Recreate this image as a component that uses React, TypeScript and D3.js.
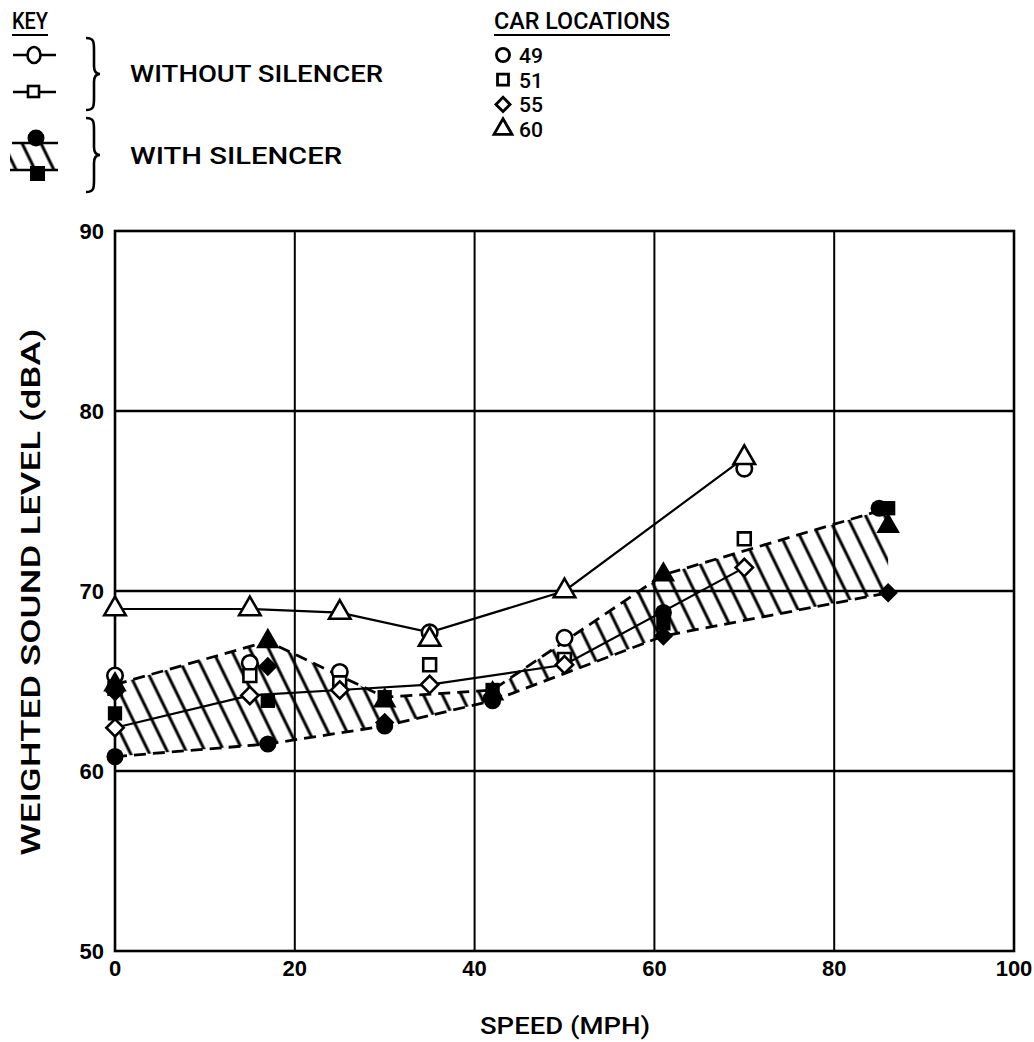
import React, { useEffect, useRef } from 'react';
import * as d3 from 'd3';

// speeds (mph) and A-weighted levels (dBA)
const speedsWithout = [0, 15, 25, 35, 50, 70];
const without49 = [65.3, 66.0, 65.5, 67.7, 67.4, 76.8];
const without51 = [64.6, 65.3, 64.9, 65.9, 66.2, 72.9];
const without55 = [62.4, 64.2, 64.5, 64.8, 65.9, 71.3];
const without60 = [69.0, 69.0, 68.8, 67.3, 70.0, 77.4];

const speedsWith = [0, 17, 30, 42, 61, 86];
const speedsWith49 = [0, 17, 30, 42, 61, 85];
const with49 = [60.8, 61.5, 62.5, 63.9, 68.8, 74.6];
const with51 = [63.2, 63.9, 64.1, 64.5, 68.2, 74.6];
const with55 = [64.4, 65.8, 62.7, 64.2, 67.5, 69.9];
const with60 = [64.8, 67.2, 63.9, 64.3, 70.9, 73.6];

const xTicks = [0, 20, 40, 60, 80, 100];
const yTicks = [50, 60, 70, 80, 90];
const carLocations = ['49', '51', '55', '60'];

const FONT = "Roboto, 'DejaVu Sans Condensed', sans-serif";
const NUM_FONT = "'Liberation Sans', Arial, sans-serif";

export default function App() {
  const svgRef = useRef<SVGSVGElement>(null);

  useEffect(() => {
    if (!svgRef.current) return;
    const width = 1034;
    const height = 1042;
    const svg = d3.select(svgRef.current);
    svg.selectAll('*').remove();
    svg.attr('width', width).attr('height', height).attr('viewBox', `0 0 ${width} ${height}`);

    const x = d3.scaleLinear().domain([0, 100]).range([115, 1014]);
    const y = d3.scaleLinear().domain([50, 90]).range([951, 231]);

    // circle, square, diamond (rotated square), triangle
    const shapes = [d3.symbolCircle, d3.symbolSquare, d3.symbolSquare, d3.symbolTriangle];
    const sizes = [190, 165, 150, 200];
    const rot = [0, 0, 45, 0];
    const sym = (i: number, s?: number) => d3.symbol().type(shapes[i]).size(s ?? sizes[i])()!;

    const defs = svg.append('defs');
    const pat = defs.append('pattern')
      .attr('id', 'hatch')
      .attr('patternUnits', 'userSpaceOnUse')
      .attr('width', 17).attr('height', 17)
      .attr('patternTransform', 'rotate(-26)');
    pat.append('line').attr('x1', 8).attr('y1', -2).attr('x2', 8).attr('y2', 19)
      .attr('stroke', '#000').attr('stroke-width', 3);

    // grid
    const grid = svg.append('g');
    grid.selectAll('line.v').data(xTicks.slice(1, -1)).join('line')
      .attr('x1', d => x(d)).attr('x2', d => x(d))
      .attr('y1', y(90)).attr('y2', y(50))
      .attr('stroke', '#000').attr('stroke-width', 2);
    grid.selectAll('line.h').data(yTicks.slice(1, -1)).join('line')
      .attr('x1', x(0)).attr('x2', x(100))
      .attr('y1', d => y(d)).attr('y2', d => y(d))
      .attr('stroke', '#000').attr('stroke-width', 2.4);
    grid.append('rect')
      .attr('x', x(0)).attr('y', y(90))
      .attr('width', x(100) - x(0)).attr('height', y(50) - y(90))
      .attr('fill', 'none').attr('stroke', '#000').attr('stroke-width', 2.6);

    // tick labels
    svg.append('g').selectAll('text').data(xTicks).join('text')
      .attr('x', d => x(d)).attr('y', y(50) + 25)
      .attr('text-anchor', 'middle')
      .style('font-family', NUM_FONT).style('font-size', '22px').style('font-weight', 'bold')
      .text(d => d);
    svg.append('g').selectAll('text').data(yTicks).join('text')
      .attr('x', x(0) - 11).attr('y', d => y(d) + 8)
      .attr('text-anchor', 'end')
      .style('font-family', NUM_FONT).style('font-size', '22px').style('font-weight', 'bold')
      .text(d => d);

    // axis titles
    svg.append('text')
      .attr('transform', 'translate(40,592) rotate(-90)')
      .attr('text-anchor', 'middle')
      .attr('textLength', 527).attr('lengthAdjust', 'spacingAndGlyphs')
      .style('font-family', FONT).style('font-size', '25px').style('font-weight', 500)
      .text('WEIGHTED SOUND LEVEL (dBA)');
    svg.append('text')
      .attr('x', 565).attr('y', 1034)
      .attr('text-anchor', 'middle')
      .attr('textLength', 170).attr('lengthAdjust', 'spacingAndGlyphs')
      .style('font-family', FONT).style('font-size', '24px').style('font-weight', 500)
      .text('SPEED (MPH)');

    // with silencer band (envelope of filled points)
    const withSeries = [with49, with51, with55, with60];
    const bandUpper = speedsWith.map((s, i) => [s, d3.max(withSeries, v => v[i])!] as [number, number]);
    const bandLower = speedsWith.map((s, i) => [s, d3.min(withSeries, v => v[i])!] as [number, number]);
    const line = d3.line<[number, number]>().x(d => x(d[0])).y(d => y(d[1]));
    const area = d3.area<number>()
      .x(i => x(speedsWith[i]))
      .y0(i => y(bandLower[i][1]))
      .y1(i => y(bandUpper[i][1]));
    defs.append('clipPath').attr('id', 'bandClip')
      .append('path').attr('d', area(d3.range(speedsWith.length))!);
    svg.append('rect')
      .attr('x', x(0)).attr('y', y(90))
      .attr('width', x(100) - x(0)).attr('height', y(50) - y(90))
      .attr('fill', 'url(#hatch)').attr('clip-path', 'url(#bandClip)');
    [bandUpper, bandLower].forEach(b => {
      svg.append('path').attr('d', line(b)!)
        .attr('fill', 'none').attr('stroke', '#000').attr('stroke-width', 2.8)
        .attr('stroke-dasharray', '12 7');
    });

    // without silencer envelope lines
    const withoutSeries = [without49, without51, without55, without60];
    const upper = speedsWithout.map((s, i) => [s, d3.max(withoutSeries, v => v[i])!] as [number, number]);
    const lower = speedsWithout.map((s, i) => [s, d3.min(withoutSeries, v => v[i])!] as [number, number]);
    [upper, lower].forEach(b => {
      svg.append('path').attr('d', line(b)!)
        .attr('fill', 'none').attr('stroke', '#000').attr('stroke-width', 2.2);
    });

    // open markers
    const openG = svg.append('g');
    withoutSeries.forEach((vals, k) => {
      openG.selectAll(`path.o${k}`).data(vals).join('path')
        .attr('class', `o${k}`)
        .attr('transform', (v, i) => `translate(${x(speedsWithout[i])},${y(v)}) rotate(${rot[k]})`)
        .attr('d', sym(k))
        .attr('fill', '#fff').attr('stroke', '#000').attr('stroke-width', 2.6);
    });

    // filled markers
    const fillG = svg.append('g');
    withSeries.forEach((vals, k) => {
      const sp = k === 0 ? speedsWith49 : speedsWith;
      fillG.selectAll(`path.f${k}`).data(vals).join('path')
        .attr('class', `f${k}`)
        .attr('transform', (v, i) => `translate(${x(sp[i])},${y(v)}) rotate(${rot[k]})`)
        .attr('d', sym(k, sizes[k] + 40))
        .attr('fill', '#000');
    });

    // ---- key ----
    const key = svg.append('g').style('font-family', FONT).style('font-size', '24px').style('font-weight', 500);
    key.append('text').attr('x', 12).attr('y', 29)
      .attr('textLength', 36).attr('lengthAdjust', 'spacingAndGlyphs').text('KEY');
    key.append('line').attr('x1', 12).attr('x2', 48).attr('y1', 35).attr('y2', 35)
      .attr('stroke', '#000').attr('stroke-width', 2.2);

    key.append('line').attr('x1', 13).attr('x2', 56).attr('y1', 55).attr('y2', 55)
      .attr('stroke', '#000').attr('stroke-width', 2.6);
    key.append('ellipse').attr('cx', 34).attr('cy', 55).attr('rx', 6.5).attr('ry', 8)
      .attr('fill', '#fff').attr('stroke', '#000').attr('stroke-width', 2.6);
    key.append('line').attr('x1', 13).attr('x2', 56).attr('y1', 92).attr('y2', 92)
      .attr('stroke', '#000').attr('stroke-width', 2.6);
    key.append('rect').attr('x', 28).attr('y', 86).attr('width', 11).attr('height', 11)
      .attr('fill', '#fff').attr('stroke', '#000').attr('stroke-width', 2.6);

    defs.append('clipPath').attr('id', 'keyClip')
      .append('path').attr('d', 'M10,142 L58,142 L58,171 L10,171 Z');
    key.append('rect').attr('x', 0).attr('y', 130).attr('width', 70).attr('height', 50)
      .attr('fill', 'url(#hatch)').attr('clip-path', 'url(#keyClip)');
    key.append('line').attr('x1', 12).attr('x2', 58).attr('y1', 143).attr('y2', 143)
      .attr('stroke', '#000').attr('stroke-width', 2.4);
    key.append('line').attr('x1', 10).attr('x2', 58).attr('y1', 170).attr('y2', 170)
      .attr('stroke', '#000').attr('stroke-width', 2.4);
    key.append('circle').attr('cx', 36).attr('cy', 138).attr('r', 8.5).attr('fill', '#000');
    key.append('rect').attr('x', 30).attr('y', 166).attr('width', 15).attr('height', 15).attr('fill', '#000');

    const brace = (bx: number, y0: number, y1: number) => {
      const m = (y0 + y1) / 2;
      return `M${bx},${y0} C${bx + 8},${y0} ${bx + 8},${y0 + 4} ${bx + 8},${y0 + 12} L${bx + 8},${m - 8} ` +
        `C${bx + 8},${m - 2} ${bx + 10},${m} ${bx + 14},${m} C${bx + 10},${m} ${bx + 8},${m + 2} ${bx + 8},${m + 8} ` +
        `L${bx + 8},${y1 - 12} C${bx + 8},${y1 - 4} ${bx + 8},${y1} ${bx},${y1}`;
    };
    [[38, 110], [118, 192]].forEach(([a, b]) => {
      key.append('path').attr('d', brace(86, a, b))
        .attr('fill', 'none').attr('stroke', '#000').attr('stroke-width', 2.6);
    });
    key.append('text').attr('x', 130).attr('y', 82)
      .attr('textLength', 253).attr('lengthAdjust', 'spacingAndGlyphs').text('WITHOUT SILENCER');
    key.append('text').attr('x', 130).attr('y', 164)
      .attr('textLength', 212).attr('lengthAdjust', 'spacingAndGlyphs').text('WITH SILENCER');

    key.append('text').attr('x', 494).attr('y', 29)
      .attr('textLength', 176).attr('lengthAdjust', 'spacingAndGlyphs').text('CAR LOCATIONS');
    key.append('line').attr('x1', 494).attr('x2', 670).attr('y1', 35).attr('y2', 35)
      .attr('stroke', '#000').attr('stroke-width', 2.2);
    carLocations.forEach((c, k) => {
      const cy = 55 + k * 24.7;
      key.append('path').attr('transform', `translate(503,${cy}) rotate(${rot[k]})`)
        .attr('d', sym(k, [135, 120, 100, 140][k]))
        .attr('fill', '#fff').attr('stroke', '#000').attr('stroke-width', 2.8);
      key.append('text').attr('x', 519).attr('y', cy + 8)
        .attr('textLength', 24).attr('lengthAdjust', 'spacingAndGlyphs')
        .style('font-size', '21px').text(c);
    });
  }, []);

  return (
    <div style={{ position: 'absolute', left: 0, top: 0, background: '#fff' }}>
      <svg ref={svgRef} style={{ display: 'block' }}></svg>
    </div>
  );
}
